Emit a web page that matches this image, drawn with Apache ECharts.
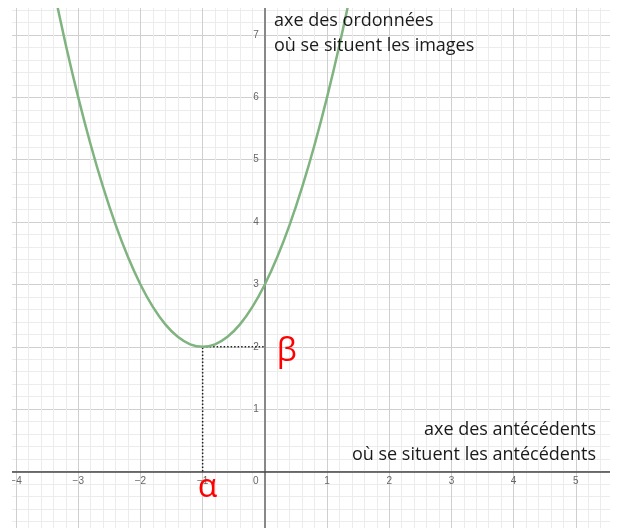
<!DOCTYPE html>
<html>
<head>
<meta charset="utf-8">
<script src="https://cdn.jsdelivr.net/npm/echarts@6/dist/echarts.min.js"></script>
<style>
  html, body { margin: 0; padding: 0; background: #fff; }
  #main { width: 617px; height: 528px; }
</style>
</head>
<body>
<div id="main"></div>
<script>
// points
var curveX = [-3.4, -3.2, -3.0, -2.8, -2.6, -2.4, -2.2, -2.0, -1.8, -1.6, -1.4, -1.2, -1.0,
              -0.8, -0.6, -0.4, -0.2, 0.0, 0.2, 0.4, 0.6, 0.8, 1.0, 1.2, 1.4];
var curveY = [7.76, 6.84, 6.0, 5.24, 4.56, 3.96, 3.44, 3.0, 2.64, 2.36, 2.16, 2.04, 2.0,
              2.04, 2.16, 2.36, 2.64, 3.0, 3.44, 3.96, 4.56, 5.24, 6.0, 6.84, 7.76];

// vertex and the two dotted guides
var alphaX = -1;
var betaY = 2;
var guideV = [[alphaX, 0], [alphaX, betaY]];
var guideH = [[alphaX, betaY], [0, betaY]];

var xTickLabels = [-4, -3, -2, -1, 0, 1, 2, 3, 4, 5];
var yTickLabels = [1, 2, 3, 4, 5, 6, 7];

var textOrd = ['axe des ordonnées', 'où se situent les images'];
var textAnt = ['axe des antécédents', 'où se situent les antécédents'];

var chartDom = document.getElementById('main');
var myChart = echarts.init(chartDom, null, { renderer: 'canvas' });

function fmtNum(v) {
    if (v < 0) return '\u2212' + (-v);
    return String(v);
}

var curveData = curveX.map(function (x, i) { return [x, curveY[i]]; });

var labelFont = { fontSize: 10, color: '#666', fontFamily: 'Liberation Sans' };
var textFont = 'Open Sans';

// grid spans x -5..6 and y -1..8, so the zero lines sit inside it
var unitX = 62.19, unitY = 62.37;

var option = {
    animation: false,
    backgroundColor: '#fff',
    grid: { left: -46.15, right: -21, top: -27.4, bottom: -5.9, outerBoundsMode: 'none', containLabel: false },
    xAxis: {
        type: 'value', min: -5, max: 6, interval: 1,
        position: 'bottom', offset: -unitY,
        axisLine: { onZero: false, lineStyle: { color: '#444', width: 1.5 } },
        axisTick: { show: false },
        minorTick: { show: false, splitNumber: 5 },
        splitLine: { show: true, lineStyle: { color: '#cfcfcf', width: 1 } },
        minorSplitLine: { show: true, lineStyle: { color: '#ececec', width: 1 } },
        axisLabel: Object.assign({
            margin: 5,
            formatter: function (v) {
                if (xTickLabels.indexOf(v) < 0) return '';
                if (v === 0) return '{z|0}';
                return fmtNum(v);
            },
            rich: { z: { fontSize: 10, color: '#666', fontFamily: 'Liberation Sans', padding: [0, 18, 0, 0] } }
        }, labelFont)
    },
    yAxis: {
        type: 'value', min: -1, max: 8, interval: 1,
        position: 'left', offset: -5 * unitX,
        axisLine: { onZero: false, lineStyle: { color: '#888', width: 2 } },
        axisTick: { show: false },
        minorTick: { show: false, splitNumber: 5 },
        splitLine: { show: true, lineStyle: { color: '#cfcfcf', width: 1 } },
        minorSplitLine: { show: true, lineStyle: { color: '#ececec', width: 1 } },
        axisLabel: Object.assign({
            margin: 6,
            formatter: function (v) {
                return yTickLabels.indexOf(v) < 0 ? '' : fmtNum(v);
            }
        }, labelFont)
    },
    series: [
        {
            type: 'line', data: guideV, symbol: 'none', z: 3,
            lineStyle: { color: '#222', width: 1.5, type: [1.5, 2] },
            markPoint: {
                symbol: 'circle', symbolSize: 0,
                label: { show: true, formatter: '\u03b1', color: '#f00', fontSize: 32, fontFamily: textFont, position: 'bottom', distance: 0, offset: [5, 0] },
                data: [{ coord: [alphaX, 0] }]
            }
        },
        {
            type: 'line', data: guideH, symbol: 'none', z: 3,
            lineStyle: { color: '#222', width: 1.5, type: [1.5, 2] },
            markPoint: {
                symbol: 'circle', symbolSize: 0,
                label: { show: true, formatter: '\u03b2', color: '#f00', fontSize: 32, fontFamily: textFont, position: 'right', distance: 0, offset: [12, 5] },
                data: [{ coord: [0, betaY] }]
            }
        },
        {
            type: 'line', data: curveData, symbol: 'none', smooth: 0.3, z: 4,
            lineStyle: { color: '#7fb37f', width: 2.5 }
        }
    ],
    graphic: [
        // white margins around the drawing area
        { type: 'rect', shape: { x: 0, y: 0, width: 617, height: 8 }, style: { fill: '#fff' }, z: 100 },
        { type: 'rect', shape: { x: 0, y: 0, width: 12, height: 528 }, style: { fill: '#fff' }, z: 100 },
        { type: 'rect', shape: { x: 610, y: 0, width: 7, height: 528 }, style: { fill: '#fff' }, z: 100 },
        { type: 'text', x: 274, y: 21, z: 110,
          style: { text: textOrd[0], fill: '#1a1a1a', font: '18px "' + textFont + '"', verticalAlign: 'middle' } },
        { type: 'text', x: 274, y: 46, z: 110,
          style: { text: textOrd[1], fill: '#1a1a1a', font: '18px "' + textFont + '"', verticalAlign: 'middle' } },
        { type: 'text', x: 596, y: 430, z: 110,
          style: { text: textAnt[0], fill: '#1a1a1a', font: '18px "' + textFont + '"', align: 'right', verticalAlign: 'middle' } },
        { type: 'text', x: 596, y: 455, z: 110,
          style: { text: textAnt[1], fill: '#1a1a1a', font: '18px "' + textFont + '"', align: 'right', verticalAlign: 'middle' } }
    ]
};

myChart.setOption(option);
</script>
</body>
</html>
